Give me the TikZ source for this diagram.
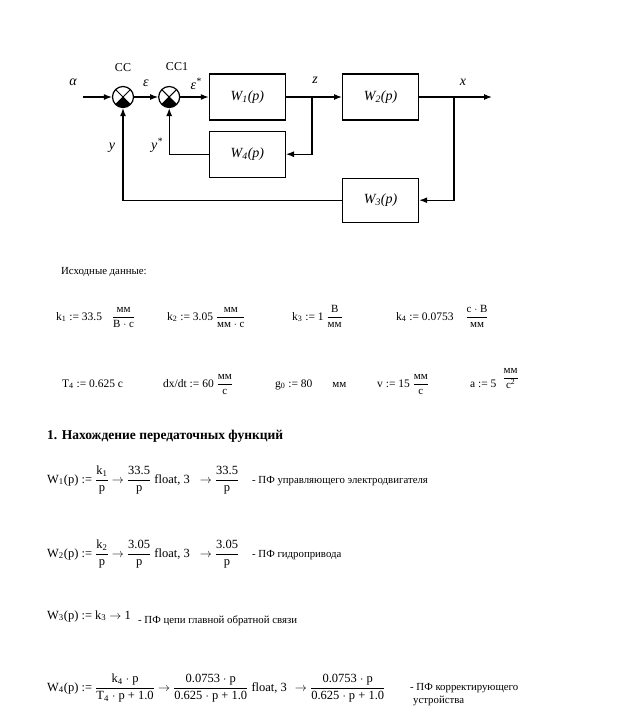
\documentclass[tikz,border=0pt]{standalone}
\usepackage{amsmath}
\usepackage{fontspec}
\setmainfont{Liberation Serif}
\usetikzlibrary{positioning,arrows.meta}
\newcommand{\frc}[2]{$\dfrac{\text{#1}}{\text{#2}}$}
\newcommand{\un}[2]{{\fontsize{11}{13}\selectfont\frc{#1}{#2}}}
\tikzset{
block/.style={
draw,
line width=1.2pt,
minimum width=76pt,
minimum height=46pt,
font=\fontsize{14}{16}\selectfont\itshape
},
sumnode/.style={
draw,
circle,
line width=1.2pt,
minimum size=21pt,
inner sep=0pt,
path picture={
\draw[line width=1pt](path picture bounding box.north west)--(path picture bounding box.south east)
(path picture bounding box.north east)--(path picture bounding box.south west);
\fill(path picture bounding box.center)--(path picture bounding box.south west)--(path picture bounding box.south east)--cycle;
}
},
sig/.style={
inner sep=0pt,
font=\fontsize{14}{16}\selectfont\itshape
},
tag/.style={
inner sep=0pt,
font=\fontsize{12}{14}\selectfont
},
arrow/.style={
-{Latex[length=8pt,width=6pt]},
line width=1.2pt
},
txt/.style={
anchor=base west,
inner sep=0pt,
font=\fontsize{11.5}{14}\selectfont
},
formula/.style={
anchor=base west,
inner sep=0pt,
font=\fontsize{12.5}{15}\selectfont
},
note/.style={
anchor=base west,
inner sep=0pt,
font=\fontsize{10.8}{13}\selectfont
},
head/.style={
anchor=base west,
inner sep=0pt,
font=\fontsize{13.5}{16}\selectfont\bfseries
}
}
\begin{document}
\begin{tikzpicture}[x=1pt,y=1pt]
\path[fill=white](0,0)rectangle(641,-724);

% structure scheme
\node[sumnode](cc) at (123,-97){};
\node[sumnode,right=24pt of cc](cc1){};
\node[block,right=28.5pt of cc1](w1){W\textsubscript{1}(p)};
\node[block,right=56pt of w1](w2){W\textsubscript{2}(p)};
\node[block,below=10pt of w1](w4){W\textsubscript{4}(p)};
\node[block,minimum height=44pt,below=57pt of w2](w3){W\textsubscript{3}(p)};
\coordinate(in) at (83,-97);
\coordinate(out) at (492,-97);
\coordinate(zb) at (312,-97);
\coordinate(xb) at (454,-97);

\draw[arrow](in)--(cc);
\draw[arrow](cc)--(cc1);
\draw[arrow](cc1)--(w1);
\draw[arrow](w1)--(w2);
\draw[arrow](w2)--(out);
\draw[arrow](zb)|-(w4.east);
\draw[arrow](w4.west)-|(cc1.south);
\draw[arrow](xb)|-(w3.east);
\draw[arrow](w3.west)-|(cc.south);

\node[sig](alpha) at (73,-82){α};
\node[tag](cclab) at (123,-68){CC};
\node[sig](eps) at (146,-83){ε};
\node[tag](cc1lab) at (177,-67){CC1};
\node[sig](epss) at (196,-84){ε\textsuperscript{*}};
\node[sig](zlab) at (315,-80){z};
\node[sig](xlab) at (463,-82){x};
\node[sig](ylab) at (112,-148){y};
\node[sig](ysl) at (157,-145){y\textsuperscript{*}};

% initial data
\node[note](src) at (61,-274){Исходные данные:};
\node[txt](k1) at (56,-320){k\textsubscript{1} := 33.5\hspace{10pt}\un{мм}{В $\cdot$ с}};
\node[txt](k2) at (167,-320){k\textsubscript{2} := 3.05 \un{мм}{мм $\cdot$ с}};
\node[txt](k3) at (292,-320){k\textsubscript{3} := 1 \un{В}{мм}};
\node[txt](k4) at (396,-320){k\textsubscript{4} := 0.0753\hspace{12pt}\un{с $\cdot$ В}{мм}};
\node[txt](t4) at (62,-387){T\textsubscript{4} := 0.625 с};
\node[txt](dxdt) at (163,-387){dx/dt := 60 \un{мм}{с}};
\node[txt](g0) at (275,-387){g\textsubscript{0} := 80\hspace{20pt}{\fontsize{11}{13}\selectfont мм}};
\node[txt](v) at (377,-387){v := 15 \un{мм}{с}};
\node[txt](a) at (470,-387){a := 5\hspace{6pt}\raisebox{6pt}{\un{мм}{с\textsuperscript{2}}}};

% transfer functions
\node[head](h1) at (47,-439){1. Нахождение передаточных функций};
\node[formula](f1) at (47,-483){W\textsubscript{1}(p) := \frc{k\textsubscript{1}}{p} $\rightarrow$ \frc{33.5}{p} float, 3\hspace{10pt}$\rightarrow$ \frc{33.5}{p}};
\node[note](n1) at (252,-483){- ПФ управляющего электродвигателя};
\node[formula](f2) at (47,-557){W\textsubscript{2}(p) := \frc{k\textsubscript{2}}{p} $\rightarrow$ \frc{3.05}{p} float, 3\hspace{10pt}$\rightarrow$ \frc{3.05}{p}};
\node[note](n2) at (252,-557){- ПФ гидропривода};
\node[formula](f3) at (47,-619){W\textsubscript{3}(p) := k\textsubscript{3} $\rightarrow$ 1};
\node[note](n3) at (138,-623){- ПФ цепи главной обратной связи};
\node[formula](f4) at (47,-691){W\textsubscript{4}(p) := \frc{k\textsubscript{4} $\cdot$ p}{T\textsubscript{4} $\cdot$ p + 1.0} $\rightarrow$ \frc{0.0753 $\cdot$ p}{0.625 $\cdot$ p + 1.0} float, 3\hspace{8pt}$\rightarrow$ \frc{0.0753 $\cdot$ p}{0.625 $\cdot$ p + 1.0}};
\node[note](n4) at (410,-690){- ПФ корректирующего};
\node[note](n4b) at (413,-703){устройства};
\end{tikzpicture}
\end{document}
